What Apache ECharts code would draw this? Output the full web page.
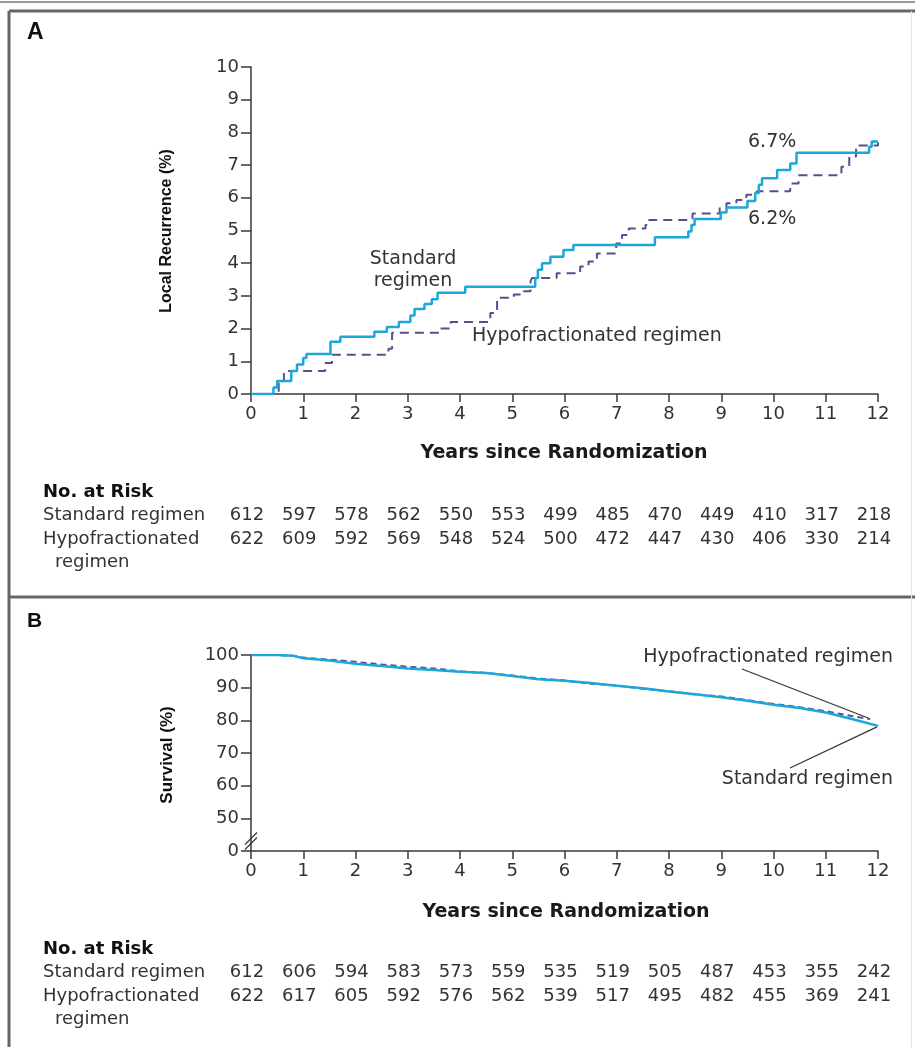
<!DOCTYPE html>
<html><head><meta charset="utf-8">
<script src="https://cdn.jsdelivr.net/npm/echarts@6/dist/echarts.min.js"></script>
<style>html,body{margin:0;padding:0;background:#fff}#c{width:915px;height:1047px}</style>
</head><body><div id="c"></div>
<script>
// ---- data ----
const riskYears = [0,1,2,3,4,5,6,7,8,9,10,11,12];
const xTickLabels = ['0','1','2','3','4','5','6','7','8','9','10','11','12'];
const yTickLabelsA = ['0','1','2','3','4','5','6','7','8','9','10'];
const yTickLabelsB = ['0','50','60','70','80','90','100'];

// Panel A: local recurrence (%), [years, value after step]
const recurStandard = [[0,0],[0.43,0.2],[0.5,0.4],[0.77,0.7],[0.88,0.9],[1.0,1.1],[1.06,1.22],[1.52,1.6],[1.71,1.75],[2.36,1.9],[2.6,2.05],[2.83,2.2],[3.05,2.4],[3.13,2.6],[3.32,2.75],[3.46,2.9],[3.57,3.1],[4.1,3.28],[5.44,3.55],[5.49,3.8],[5.57,4.0],[5.73,4.2],[5.98,4.4],[6.17,4.56],[7.73,4.79],[8.37,4.97],[8.43,5.17],[8.49,5.35],[8.99,5.55],[9.1,5.7],[9.5,5.9],[9.65,6.15],[9.72,6.4],[9.78,6.6],[10.07,6.85],[10.32,7.05],[10.44,7.38],[11.83,7.56],[11.88,7.72],[12,7.72]];
const recurHypo = [[0,0],[0.53,0.39],[0.63,0.7],[1.42,0.95],[1.55,1.2],[2.63,1.38],[2.7,1.87],[3.62,2.0],[3.82,2.2],[4.58,2.48],[4.71,2.94],[5.03,3.04],[5.22,3.14],[5.35,3.45],[5.38,3.55],[5.85,3.69],[6.3,3.9],[6.46,4.05],[6.62,4.3],[6.99,4.6],[7.1,4.86],[7.23,5.06],[7.55,5.17],[7.62,5.32],[8.45,5.52],[8.97,5.71],[9.1,5.83],[9.29,5.93],[9.48,6.09],[9.68,6.2],[10.32,6.44],[10.48,6.69],[11.3,6.95],[11.45,7.26],[11.58,7.6],[12,7.69]];

// Panel B: survival (%)
const survStandard = [[0,100],[0.5,100],[0.8,99.8],[1,99.0],[1.5,98.3],[2,97.3],[2.5,96.6],[3,95.9],[3.5,95.4],[4,94.9],[4.5,94.5],[5,93.6],[5.5,92.6],[6,92.1],[6.5,91.4],[7,90.6],[7.5,89.8],[8,88.8],[8.5,88.0],[9,87.1],[9.5,86.0],[10,84.8],[10.5,83.8],[11,82.4],[11.5,80.4],[12,78.3]];
const survHypo = [[0,100],[0.5,100],[0.8,99.8],[1,99.2],[1.5,98.6],[2,97.9],[2.5,97.1],[3,96.4],[3.5,95.9],[4,95.0],[4.5,94.5],[5,93.7],[5.5,92.8],[6,92.2],[6.5,91.2],[7,90.7],[7.5,89.7],[8,88.9],[8.5,87.9],[9,87.3],[9.5,86.2],[10,85.0],[10.5,84.0],[11,82.8],[11.5,81.3],[11.85,80.4]];

const riskAStandard = [612,597,578,562,550,553,499,485,470,449,410,317,218];
const riskAHypo     = [622,609,592,569,548,524,500,472,447,430,406,330,214];
const riskBStandard = [612,606,594,583,573,559,535,519,505,487,453,355,242];
const riskBHypo     = [622,617,605,592,576,562,539,517,495,482,455,369,241];

// ---- styles ----
const CYAN = '#1ca7da';
const PURPLE = '#574f8e';
const AXIS = '#3a3a3a';
const TXT = '#333';
const FONT = 'DejaVu Sans';

const chart = echarts.init(document.getElementById('c'), null, {renderer:'canvas'});

function xAx(gi){
  return {
    type:'value', gridIndex:gi, min:0, max:12, interval:1,
    axisLine:{show:true, onZero:false, lineStyle:{color:AXIS, width:1.5}},
    axisTick:{show:true, length:8, lineStyle:{color:AXIS, width:1.5}},
    axisLabel:{color:TXT, fontFamily:FONT, fontSize:18, margin:11,
      formatter:v=>xTickLabels[Math.round(v)]},
    splitLine:{show:false}
  };
}

chart.setOption({
  animation:false,
  backgroundColor:'#fff',
  grid:[
    {left:251, top:67, width:627, height:327},
    {left:251, top:655, width:627, height:196}
  ],
  xAxis:[xAx(0), xAx(1)],
  yAxis:[
    {type:'value', gridIndex:0, min:0, max:10, interval:1,
     axisLine:{show:true, lineStyle:{color:AXIS, width:1.5}},
     axisTick:{show:true, length:10, lineStyle:{color:AXIS, width:1.5}},
     axisLabel:{color:TXT, fontFamily:FONT, fontSize:18, margin:12,
       formatter:v=>yTickLabelsA[Math.round(v)]},
     splitLine:{show:false}},
    {type:'value', gridIndex:1, min:40, max:100, interval:10,
     axisLine:{show:true, lineStyle:{color:AXIS, width:1.5}},
     axisTick:{show:true, length:10, lineStyle:{color:AXIS, width:1.5}},
     axisLabel:{color:TXT, fontFamily:FONT, fontSize:18, margin:12,
       formatter:v=>yTickLabelsB[Math.round((v-40)/10)]},
     splitLine:{show:false}}
  ],
  series:[
    {name:'Hypofractionated regimen', type:'line', xAxisIndex:0, yAxisIndex:0, step:'end',
     data:recurHypo, showSymbol:false, lineStyle:{color:PURPLE, width:2, type:[9,6]}},
    {name:'Standard regimen', type:'line', xAxisIndex:0, yAxisIndex:0, step:'end',
     data:recurStandard, showSymbol:false, lineStyle:{color:CYAN, width:2.5}},
    {name:'Hypofractionated regimen', type:'line', xAxisIndex:1, yAxisIndex:1,
     data:survHypo, showSymbol:false, lineStyle:{color:PURPLE, width:2, type:[6,4]}},
    {name:'Standard regimen', type:'line', xAxisIndex:1, yAxisIndex:1,
     data:survStandard, showSymbol:false, lineStyle:{color:CYAN, width:2.5}}
  ]
});

// ---- decorations & table ----
const px = (gi, p) => chart.convertToPixel({gridIndex:gi}, p);
const g = [];
function line(x1,y1,x2,y2,stroke,w){
  g.push({type:'line', silent:true, shape:{x1,y1,x2,y2}, style:{stroke, lineWidth:w}});
}
function text(t,x,y,opt){
  g.push({type:'text', silent:true, x, y, rotation:opt.rotation||0,
    style:{text:t, fill:opt.fill||TXT, font:opt.font, textAlign:opt.align||'left', textVerticalAlign:opt.va||'middle'}});
}

// frame
line(0,2,915,2,'#777',1.5);
line(9,11,915,11,'#666',3);
line(9,11,9,1047,'#666',3);
line(9,597,915,597,'#666',3);
line(911.5,11,911.5,1047,'#e4e4e4',1);

// panel letters
text('A',27,33,{font:'bold 23px "Liberation Sans"', fill:'#111'});
text('B',27,621,{font:'bold 21px "Liberation Sans"', fill:'#111'});

// axis titles
text('Local Recurrence (%)',167,231,{font:'bold 16px "Liberation Sans"', align:'center', rotation:Math.PI/2, fill:'#111'});
text('Survival (%)',167,755,{font:'bold 17px "Liberation Sans"', align:'center', rotation:Math.PI/2, fill:'#111'});
text('Years since Randomization',564,453,{font:'bold 19px "DejaVu Sans"', align:'center', fill:'#1a1a1a'});
text('Years since Randomization',566,912,{font:'bold 19px "DejaVu Sans"', align:'center', fill:'#1a1a1a'});

// panel A annotations
const annA = '19px "DejaVu Sans"';
text('Standard',413,259,{font:annA, align:'center'});
text('regimen',413,281,{font:annA, align:'center'});
text('Hypofractionated regimen',472,336,{font:annA});
text('6.7%',748,142,{font:annA});
text('6.2%',748,219,{font:annA});

// panel B annotations with leader lines
text('Hypofractionated regimen',893,657,{font:annA, align:'right'});
text('Standard regimen',893,779,{font:annA, align:'right'});
const hEnd = px(1, survHypo[survHypo.length-1]);
const sEnd = px(1, survStandard[survStandard.length-1]);
line(742,669,hEnd[0]-2,hEnd[1]-1,'#333',1.2);
line(790,768,sEnd[0]-1,sEnd[1]+1,'#333',1.2);

// axis break marks on panel B y-axis
const bk = px(1,[0,43.5]);
line(bk[0]-6,bk[1]+5,bk[0]+6,bk[1]-7,'#3a3a3a',1.3);
line(bk[0]-6,bk[1]+10,bk[0]+6,bk[1]-2,'#3a3a3a',1.3);

// risk tables
const tblFont = '18px "DejaVu Sans"';
const tblBold = 'bold 18px "DejaVu Sans"';
function table(gi, y0, sArr, hArr){
  text('No. at Risk',43,y0,{font:tblBold, fill:'#111'});
  text('Standard regimen',43,y0+23,{font:tblFont});
  text('Hypofractionated',43,y0+47,{font:tblFont});
  text('regimen',55,y0+70,{font:tblFont});
  riskYears.forEach((yr,i)=>{
    const x = px(gi,[yr,0])[0]-4;
    text(String(sArr[i]),x,y0+23,{font:tblFont, align:'center'});
    text(String(hArr[i]),x,y0+47,{font:tblFont, align:'center'});
  });
}
table(0,492,riskAStandard,riskAHypo);
table(1,949,riskBStandard,riskBHypo);

chart.setOption({graphic:{elements:g}});
</script>
</body></html>
